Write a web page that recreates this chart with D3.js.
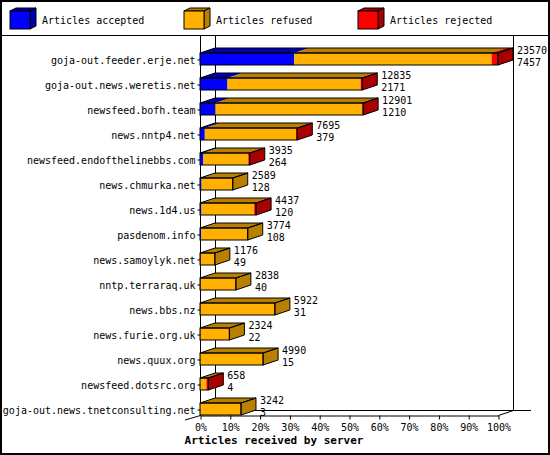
<!DOCTYPE html>
<html>
<head>
<meta charset="utf-8">
<script src="https://cdn.jsdelivr.net/npm/d3@7"></script>
<style>
  body { margin: 0; background: #fff; }
  text { font-family: "DejaVu Sans Mono", monospace; font-size: 10px; fill: #000; }
</style>
</head>
<body>
<div class="chart"></div>
<script>
const svgWidth = 550
const svgHeight = 455

// servers, top to bottom
const servers = [
  "goja-out.feeder.erje.net",
  "goja-out.news.weretis.net",
  "newsfeed.bofh.team",
  "news.nntp4.net",
  "newsfeed.endofthelinebbs.com",
  "news.chmurka.net",
  "news.1d4.us",
  "pasdenom.info",
  "news.samoylyk.net",
  "nntp.terraraq.uk",
  "news.bbs.nz",
  "news.furie.org.uk",
  "news.quux.org",
  "newsfeed.dotsrc.org",
  "goja-out.news.tnetconsulting.net"
]
// total articles offered (upper number) and accepted (lower number)
const totals = [23570, 12835, 12901, 7695, 3935, 2589, 4437, 3774, 1176, 2838, 5922, 2324, 4990, 658, 3242]
const accepted = [7457, 2171, 1210, 379, 264, 128, 120, 108, 49, 40, 31, 22, 15, 4, 3]
// rejected
const rejected = [500, 130, 20, 100, 120, 0, 150, 0, 0, 0, 0, 0, 0, 150, 0]

const seriesKeys = ["accepted", "refused", "rejected"]
const seriesNames = ["Articles accepted", "Articles refused", "Articles rejected"]
const frontColors = ["#0000ff", "#ffb000", "#ff0000"]
const sideColors = ["#0000aa", "#b98000", "#aa0000"]
const xTicks = [0, 0.1, 0.2, 0.3, 0.4, 0.5, 0.6, 0.7, 0.8, 0.9, 1]

let rows = servers.map((s, i) => ({
  server: s,
  total: totals[i],
  accepted: accepted[i],
  rejected: rejected[i],
  refused: totals[i] - accepted[i] - rejected[i]
}))

let plot = { left: 200, right: 498, top: 40, bottom: 415 }
let depthX = 15
let depthY = 5
let faceH = 12

let svg = d3.select(".chart").append("svg")
  .attr("width", svgWidth)
  .attr("height", svgHeight)

svg.append("rect")
  .attr("x", 1).attr("y", 1)
  .attr("width", svgWidth - 2).attr("height", svgHeight - 2)
  .attr("fill", "#fff").attr("stroke", "#000").attr("stroke-width", 2)

// legend
svg.append("line")
  .attr("x1", 0).attr("x2", svgWidth).attr("y1", 35.5).attr("y2", 35.5)
  .attr("stroke", "#000")

let legendX = [10, 184, 358]
seriesNames.forEach((name, i) => {
  let g = svg.append("g").attr("transform", `translate(${legendX[i]}, 11)`)
  let w = 20, h = 18, dx = 6, dy = 3
  g.append("polygon")
    .attr("points", `0,0 ${dx},${-dy} ${w + dx},${-dy} ${w},0`)
    .attr("fill", sideColors[i]).attr("stroke", "#000")
  g.append("polygon")
    .attr("points", `${w},0 ${w + dx},${-dy} ${w + dx},${h - dy} ${w},${h}`)
    .attr("fill", sideColors[i]).attr("stroke", "#000")
  g.append("rect")
    .attr("width", w).attr("height", h)
    .attr("fill", frontColors[i]).attr("stroke", "#000")
  g.append("text").attr("x", 32).attr("y", 13).text(name)
})

let x = d3.scaleLinear()
  .domain([0, d3.max(totals)])
  .range([plot.left, plot.right])

let xPct = d3.scaleLinear().domain([0, 1]).range([plot.left, plot.right])

let y = d3.scaleBand()
  .domain(servers)
  .range([plot.top, plot.bottom])

// back wall and floor
let frame = svg.append("g").attr("stroke", "#000").attr("fill", "none")
frame.append("line").attr("x1", 215.5).attr("x2", 215.5).attr("y1", 35).attr("y2", 410.5)
frame.append("line").attr("x1", 513.5).attr("x2", 513.5).attr("y1", 35).attr("y2", 410.5)
frame.append("line").attr("x1", 215.5).attr("x2", 531).attr("y1", 410.5).attr("y2", 410.5)
frame.append("line").attr("x1", 185).attr("x2", 200.5).attr("y1", 420).attr("y2", 415.5)
frame.append("line").attr("x1", 498.5).attr("x2", 513.5).attr("y1", 415.5).attr("y2", 410.5)
frame.append("line").attr("x1", 200.5).attr("x2", 200.5).attr("y1", 35).attr("y2", 415.5)

// bars
let stacked = d3.stack().keys(seriesKeys)(rows)

rows.forEach((r, i) => {
  let yBot = y(r.server) + y.bandwidth()
  let yTop = yBot - faceH
  let g = svg.append("g")
  let lastIdx = 0
  stacked.forEach((layer, k) => {
    let x0 = x(layer[i][0]), x1 = x(layer[i][1])
    if (x1 - x0 <= 0) return
    lastIdx = k
    g.append("rect")
      .attr("x", x0).attr("y", yTop)
      .attr("width", x1 - x0).attr("height", faceH)
      .attr("fill", frontColors[k])
    g.append("polygon")
      .attr("points", `${x0},${yTop} ${x0 + depthX},${yTop - depthY} ${x1 + depthX},${yTop - depthY} ${x1},${yTop}`)
      .attr("fill", sideColors[k])
  })
  let xe = x(r.total)
  let xs = plot.left
  g.append("polygon")
    .attr("points", `${xe},${yTop} ${xe + depthX},${yTop - depthY} ${xe + depthX},${yBot - depthY} ${xe},${yBot}`)
    .attr("fill", sideColors[lastIdx]).attr("stroke", "#000")
  g.append("polygon")
    .attr("points", `${xs},${yTop} ${xs + depthX},${yTop - depthY} ${xe + depthX},${yTop - depthY} ${xe},${yTop}`)
    .attr("fill", "none").attr("stroke", "#000")
  g.append("rect")
    .attr("x", xs).attr("y", yTop)
    .attr("width", xe - xs).attr("height", faceH)
    .attr("fill", "none").attr("stroke", "#000")

  // value labels
  g.append("text")
    .attr("x", xe + depthX + 4).attr("y", yBot - 11)
    .text(r.total)
  g.append("text")
    .attr("x", xe + depthX + 4).attr("y", yBot + 0.5)
    .text(r.accepted)
})

// category axis
let leftAxis = d3.axisLeft(y).tickSize(3).tickPadding(2)
let yAxis = svg.append("g")
  .attr("transform", `translate(${plot.left + 0.5}, ${y.bandwidth() / 2 - faceH / 2 + 1})`)
  .call(leftAxis)
yAxis.select(".domain").remove()
yAxis.selectAll("text").attr("font-family", null).attr("font-size", null).attr("dy", "0.35em")

// percent axis
let bottomAxis = d3.axisBottom(xPct).tickValues(xTicks).tickFormat(d3.format(".0%")).tickSize(4).tickSizeOuter(0).tickPadding(4)
let xAxis = svg.append("g")
  .attr("transform", `translate(0.5, ${plot.bottom + 0.5})`)
  .call(bottomAxis)
xAxis.selectAll("text").attr("font-family", null).attr("font-size", null)

svg.append("text")
  .attr("x", 274).attr("y", 444)
  .attr("text-anchor", "middle")
  .style("font-weight", "bold")
  .style("font-size", "11px")
  .text("Articles received by server")
</script>
</body>
</html>
